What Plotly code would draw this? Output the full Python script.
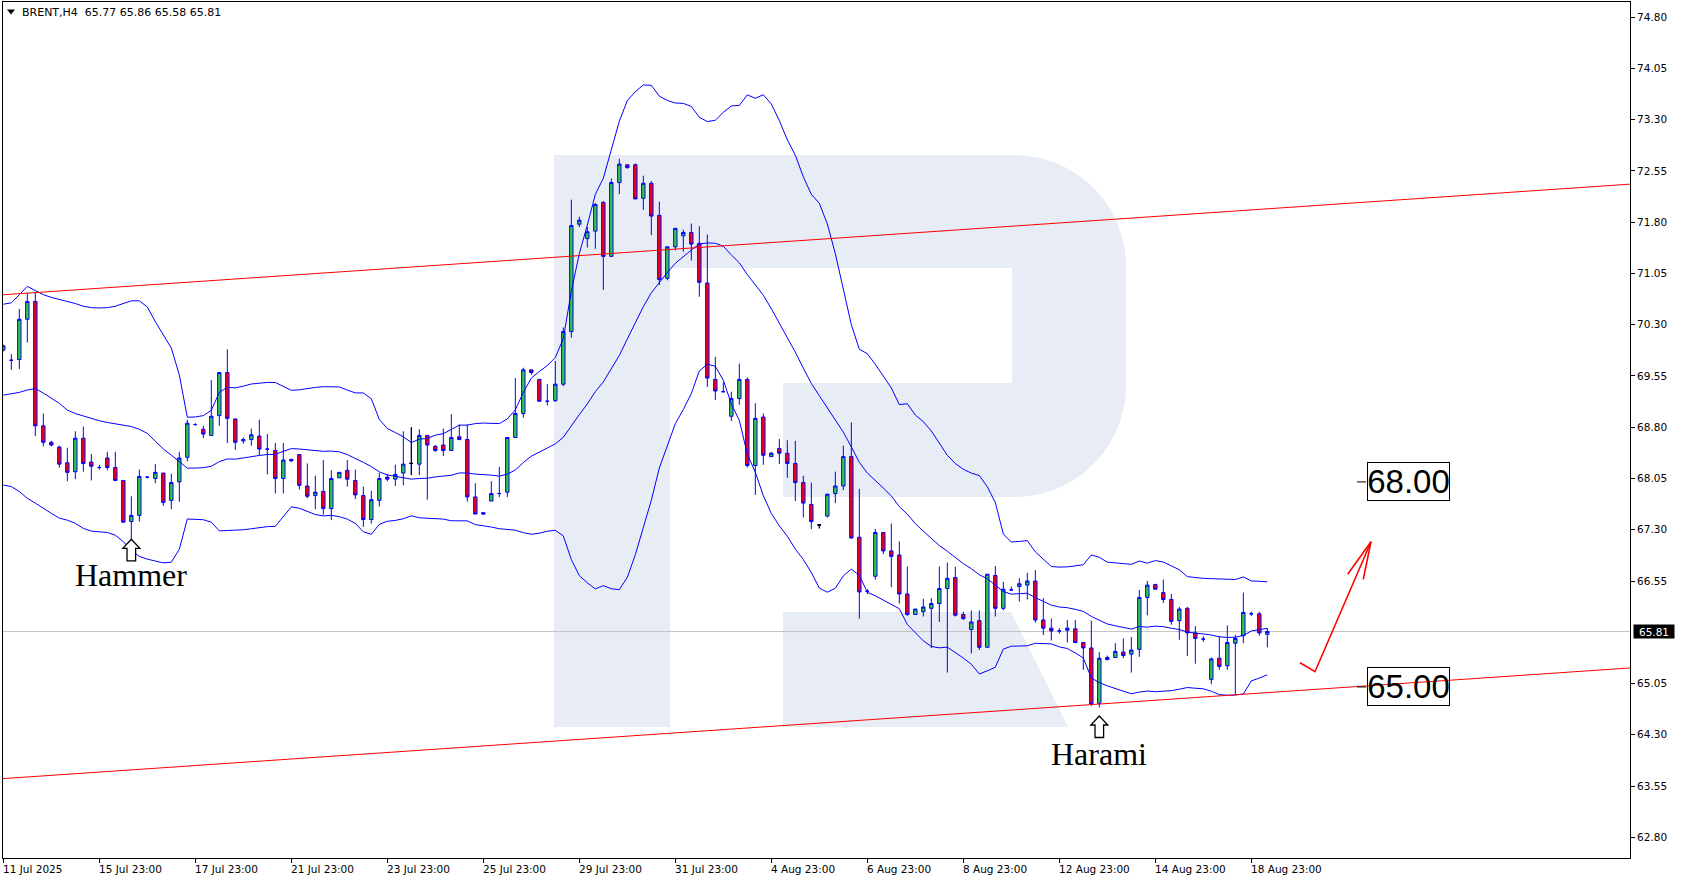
import plotly.graph_objects as go
import pandas as pd

# ---------------- data (BRENT, H4) ----------------
opens = [69.93, 69.78, 69.79, 70.38, 70.64, 68.82, 68.58, 68.51, 68.28, 68.15,
         68.64, 68.29, 68.21, 68.35, 68.21, 68.02, 67.42, 67.51, 68.07, 68.05,
         68.13, 67.73, 68.00, 68.36, 68.84, 68.77, 68.68, 68.97, 69.60, 68.92,
         68.60, 68.62, 68.67, 68.48, 68.46, 68.05, 68.33, 68.40, 67.94, 67.80,
         67.86, 67.61, 68.06, 68.17, 68.02, 67.80, 67.45, 67.73, 68.07, 68.04,
         68.13, 68.27, 68.26, 68.68, 68.52, 68.54, 68.46, 68.66, 68.62, 67.78,
         67.55, 67.72, 67.83, 67.85, 68.65, 69.00, 69.64, 69.50, 69.18, 69.19,
         69.43, 70.20, 71.77, 71.56, 71.67, 72.09, 71.30, 72.38, 72.64, 72.64,
         72.15, 72.37, 71.90, 70.98, 71.44, 71.60, 71.65, 71.49, 70.91, 69.50,
         69.32, 68.96, 69.22, 69.50, 68.24, 68.95, 68.37, 68.49, 68.42, 68.27,
         67.99, 67.67, 67.37, 67.50, 67.83, 67.94, 68.37, 67.19, 66.40, 66.62,
         67.26, 66.99, 66.93, 66.36, 66.06, 66.10, 66.15, 66.22, 66.44, 66.60,
         66.06, 65.84, 65.97, 65.58, 66.63, 66.15, 66.42, 66.47, 66.49, 66.55,
         65.98, 65.86, 65.82, 65.83, 65.85, 65.65, 65.57, 64.76, 65.43, 65.43,
         65.51, 65.48, 65.55, 66.31, 66.50, 66.38, 66.28, 65.97, 66.15, 65.79,
         65.70, 65.11, 65.42, 65.31, 65.64, 65.75, 66.07, 66.07, 65.77]
highs = [70.01, 69.87, 70.53, 70.77, 70.77, 69.00, 68.60, 68.53, 68.50, 68.74,
         68.81, 68.41, 68.25, 68.44, 68.44, 68.02, 67.79, 68.18, 68.08, 68.26,
         68.13, 68.12, 68.44, 68.91, 68.86, 68.82, 69.49, 69.60, 69.94, 68.93,
         68.65, 68.78, 68.91, 68.70, 68.57, 68.57, 68.33, 68.40, 68.27, 68.09,
         68.32, 68.17, 68.14, 68.32, 68.18, 67.93, 67.87, 68.13, 68.11, 68.25,
         68.74, 68.80, 68.77, 68.68, 68.54, 68.78, 68.99, 68.84, 68.84, 67.98,
         67.55, 68.01, 68.22, 68.65, 69.52, 69.67, 69.64, 69.50, 69.43, 69.77,
         70.26, 72.13, 71.88, 71.73, 72.08, 72.11, 72.44, 72.73, 72.64, 72.66,
         72.48, 72.40, 72.10, 71.44, 71.71, 71.69, 71.78, 71.74, 71.62, 69.83,
         69.46, 69.32, 69.73, 69.53, 69.15, 69.00, 68.44, 68.63, 68.61, 68.60,
         68.09, 67.99, 67.37, 67.83, 68.15, 68.53, 68.87, 67.90, 66.43, 67.31,
         67.26, 67.39, 67.13, 66.76, 66.14, 66.29, 66.30, 66.76, 66.82, 66.76,
         66.10, 66.12, 66.12, 66.65, 66.77, 66.54, 66.47, 66.59, 66.67, 66.71,
         66.30, 66.00, 65.86, 65.98, 65.98, 65.65, 65.97, 65.51, 65.46, 65.64,
         65.71, 65.73, 66.42, 66.55, 66.50, 66.57, 66.36, 66.17, 66.17, 65.89,
         65.74, 65.43, 65.74, 65.90, 65.76, 66.38, 66.10, 66.10, 65.86]
lows = [69.91, 69.64, 69.65, 70.04, 68.67, 68.52, 68.52, 68.21, 68.01, 68.04,
        68.15, 68.02, 68.18, 68.17, 68.02, 67.41, 67.15, 67.42, 68.05, 67.98,
        67.65, 67.60, 67.71, 68.30, 68.82, 68.64, 68.68, 68.82, 68.57, 68.47,
        68.56, 68.53, 68.39, 68.11, 67.83, 67.83, 68.29, 67.89, 67.76, 67.60,
        67.52, 67.44, 68.06, 67.93, 67.75, 67.34, 67.39, 67.64, 68.01, 67.94,
        67.95, 68.10, 68.10, 67.74, 68.44, 68.38, 68.46, 68.61, 67.71, 67.53,
        67.52, 67.72, 67.78, 67.78, 68.65, 68.94, 69.57, 69.18, 69.12, 69.17,
        69.40, 70.11, 71.73, 71.43, 71.41, 70.81, 71.30, 72.21, 72.58, 72.14,
        71.98, 71.61, 70.88, 70.95, 71.39, 71.37, 71.24, 70.71, 69.39, 69.20,
        69.31, 68.89, 69.13, 68.21, 67.81, 68.25, 68.37, 68.26, 68.06, 67.72,
        67.48, 67.31, 67.32, 67.48, 67.69, 67.88, 67.17, 66.00, 66.36, 66.57,
        66.94, 66.46, 66.22, 66.04, 66.06, 66.03, 65.57, 65.95, 65.21, 66.03,
        65.98, 65.49, 65.54, 65.58, 66.03, 66.12, 66.41, 66.25, 66.28, 65.94,
        65.76, 65.68, 65.78, 65.65, 65.64, 65.25, 64.72, 64.70, 65.39, 65.43,
        65.42, 65.21, 65.44, 66.05, 66.43, 66.23, 65.91, 65.69, 65.45, 65.34,
        65.66, 65.04, 65.25, 65.25, 64.88, 65.64, 66.04, 65.75, 65.58]
closes = [69.99, 69.78, 70.38, 70.64, 68.82, 68.58, 68.54, 68.26, 68.14, 68.64,
          68.27, 68.23, 68.21, 68.21, 68.02, 67.41, 67.51, 68.08, 68.07, 68.14,
          67.70, 67.99, 68.35, 68.86, 68.84, 68.70, 68.96, 69.60, 68.93, 68.58,
          68.62, 68.69, 68.48, 68.48, 68.05, 68.32, 68.31, 67.95, 67.79, 67.85,
          67.61, 68.05, 68.14, 68.04, 67.81, 67.45, 67.74, 68.05, 68.04, 68.11,
          68.26, 68.27, 68.68, 68.54, 68.46, 68.46, 68.65, 68.62, 67.78, 67.53,
          67.53, 67.83, 67.83, 68.65, 69.00, 69.64, 69.60, 69.18, 69.18, 69.43,
          70.20, 71.75, 71.83, 71.66, 72.06, 71.30, 72.38, 72.65, 72.60, 72.14,
          72.37, 71.89, 70.96, 71.44, 71.71, 71.65, 71.48, 70.92, 69.52, 69.33,
          69.32, 69.22, 69.50, 68.24, 68.93, 68.39, 68.42, 68.42, 68.27, 67.99,
          67.69, 67.42, 67.37, 67.82, 67.94, 68.37, 67.18, 66.39, 66.40, 67.26,
          66.99, 66.91, 66.36, 66.06, 66.14, 66.17, 66.22, 66.44, 66.59, 66.05,
          66.00, 65.95, 65.58, 66.65, 66.15, 66.43, 66.42, 66.51, 66.55, 65.98,
          65.86, 65.82, 65.82, 65.86, 65.65, 65.57, 64.75, 65.42, 65.40, 65.52,
          65.46, 65.54, 66.31, 66.49, 66.43, 66.28, 65.96, 66.14, 65.79, 65.71,
          65.70, 65.41, 65.30, 65.65, 65.71, 66.09, 66.07, 65.79, 65.81]

# doji candles drawn in black on the chart
black_doji_idx = [51, 102]

# Bollinger band values read for the first 19 bars (history before the window)
bb_upper_head = [70.60, 70.62, 70.74, 70.86, 70.80, 70.74, 70.70, 70.67, 70.65, 70.61,
                 70.57, 70.55, 70.545, 70.55, 70.57, 70.61, 70.65, 70.65, 70.56]
bb_mid_head = [69.27, 69.29, 69.31, 69.345, 69.365, 69.30, 69.22, 69.15, 69.05, 69.00,
               68.965, 68.925, 68.895, 68.87, 68.85, 68.84, 68.81, 68.77, 68.71]
bb_lower_head = [67.955, 67.93, 67.86, 67.76, 67.69, 67.61, 67.54, 67.47, 67.44, 67.395,
                 67.32, 67.28, 67.27, 67.26, 67.22, 67.125, 67.00, 66.91, 66.87]
bb_period = 20
bb_dev = 2.0

x_tick_idx = [0, 12, 24, 36, 48, 60, 72, 84, 96, 108, 120, 132, 144, 156]
x_tick_labels = ["11 Jul 2025", "15 Jul 23:00", "17 Jul 23:00", "21 Jul 23:00",
                 "23 Jul 23:00", "25 Jul 23:00", "29 Jul 23:00", "31 Jul 23:00",
                 "4 Aug 23:00", "6 Aug 23:00", "8 Aug 23:00", "12 Aug 23:00",
                 "14 Aug 23:00", "18 Aug 23:00"]
y_tick_vals = [62.80, 63.55, 64.30, 65.05, 66.55, 67.30, 68.05, 68.80, 69.55,
               70.30, 71.05, 71.80, 72.55, 73.30, 74.05, 74.80]

last_price = 65.81
header_text = "BRENT,H4\u00a0\u00a065.77 65.86 65.58 65.81"

# channel lines (bar index, price)
chan_upper = (0, 70.738)
chan_lower = (0, 63.659)
chan_slope = 0.00796
target_up = 68.00
target_down = 65.00

# pattern marks: (bar index, price of arrow tip, label, label offset px)
patterns = [(16, 67.16, "Hammer", -36), (137, 64.575, "Harami", -38)]

# ---------------- derived indicator ----------------
idx = list(range(len(closes)))
cs = pd.Series(closes)
mid = cs.rolling(bb_period).mean()
sd = cs.rolling(bb_period).std(ddof=0)
upper = (mid + bb_dev * sd).tolist()
lower = (mid - bb_dev * sd).tolist()
mid = mid.tolist()
n0 = len(bb_mid_head)
upper[:n0] = bb_upper_head
mid[:n0] = bb_mid_head
lower[:n0] = bb_lower_head

# ---------------- layout geometry (pixels) ----------------
W_FIG, H_FIG = 1681, 882
PL, PR, PT, PB = 3, 1630, 2, 858
PW, PH = PR - PL, PB - PT
Y_RANGE = [62.497, 75.022]
X_RANGE = [-0.04, (PW / 8.0) - 0.04]


def PX(x):
    return (x - PL) / PW


def PY(y):
    return (PB - y) / PH


def pt(x, y):
    return f"{PX(x):.5f},{PY(y):.5f}"


def poly(points):
    s = "M " + pt(*points[0])
    for p in points[1:]:
        s += " L " + pt(*p)
    return s + " Z"


BLUE = "#0000FF"
GREEN = "#32CD32"
RED = "#FF0000"
WM = "#E8ECF4"

fig = go.Figure()

fig.add_trace(go.Candlestick(
    x=idx, open=opens, high=highs, low=lows, close=closes,
    increasing=dict(line=dict(color=BLUE, width=1), fillcolor=GREEN),
    decreasing=dict(line=dict(color=BLUE, width=1), fillcolor=RED),
    whiskerwidth=0, hoverinfo="skip", showlegend=False))

fig.add_trace(go.Candlestick(
    x=black_doji_idx,
    open=[opens[i] for i in black_doji_idx], high=[highs[i] for i in black_doji_idx],
    low=[lows[i] for i in black_doji_idx], close=[closes[i] for i in black_doji_idx],
    increasing=dict(line=dict(color="black", width=1), fillcolor="black"),
    decreasing=dict(line=dict(color="black", width=1), fillcolor="black"),
    whiskerwidth=0, hoverinfo="skip", showlegend=False))

for band in (upper, mid, lower):
    fig.add_trace(go.Scatter(x=idx, y=band, mode="lines",
                             line=dict(color=BLUE, width=1),
                             hoverinfo="skip", showlegend=False))

shapes = []
# watermark "R"
wm = dict(type="path", xref="paper", yref="paper", fillcolor=WM,
          line=dict(width=0), layer="below")
shapes.append(dict(wm, path=poly([(554, 155), (670, 155), (670, 727), (554, 727)])))
shapes.append(dict(wm, path=poly([(669, 155), (1013, 155), (1013, 268), (669, 268)])))
bowl = ("M " + pt(1012, 155) + " L " + pt(1014, 155)
        + " C " + pt(1076, 155) + " " + pt(1126, 205) + " " + pt(1126, 267)
        + " L " + pt(1126, 385)
        + " C " + pt(1126, 447) + " " + pt(1076, 497) + " " + pt(1014, 497)
        + " L " + pt(1012, 497) + " Z")
shapes.append(dict(wm, path=bowl))
shapes.append(dict(wm, path=poly([(783, 383), (1013, 383), (1013, 497), (783, 497)])))
shapes.append(dict(wm, path=poly([(783, 612), (1011, 612), (1068, 727), (783, 727)])))

# last price line
shapes.append(dict(type="line", xref="paper", yref="y", x0=0, x1=1,
                   y0=last_price, y1=last_price,
                   line=dict(color="#C0C0C0", width=1), layer="below"))

# channel lines
for (x0, p0) in (chan_upper, chan_lower):
    xa, xb = -5, 215
    shapes.append(dict(type="line", xref="x", yref="y",
                       x0=xa, x1=xb,
                       y0=p0 + chan_slope * (xa - x0), y1=p0 + chan_slope * (xb - x0),
                       line=dict(color=RED, width=1), layer="above"))

# forecast arrow (hand drawn)
red_pts = [(1300, 662.7), (1315, 671.7), (1371, 541.7)]
red_path = "M " + pt(*red_pts[0]) + "".join(" L " + pt(*p) for p in red_pts[1:])
shapes.append(dict(type="path", xref="paper", yref="paper", path=red_path,
                   line=dict(color=RED, width=1.6), layer="above"))
for hx, hy in [(1347.7, 574.3), (1363.3, 579.3)]:
    shapes.append(dict(type="line", xref="paper", yref="paper",
                       x0=PX(1371), y0=PY(541.7), x1=PX(hx), y1=PY(hy),
                       line=dict(color=RED, width=1.6), layer="above"))

# target labels dashes
for tgt in (target_up, target_down):
    shapes.append(dict(type="line", xref="paper", yref="y",
                       x0=PX(1357), x1=PX(1366), y0=tgt, y1=tgt,
                       line=dict(color="black", width=1)))

# pattern arrows
arrow_path = "M 0,0 L 8.5,-9 L 4.3,-9 L 4.3,-21.5 L -4.3,-21.5 L -4.3,-9 L -8.5,-9 Z"
for bi, tip, _, _ in patterns:
    shapes.append(dict(type="path", xref="x", yref="y",
                       xsizemode="pixel", ysizemode="pixel",
                       xanchor=bi, yanchor=tip, path=arrow_path,
                       fillcolor="white", line=dict(color="black", width=1.3),
                       layer="above"))

# header triangle
shapes.append(dict(type="path", xref="paper", yref="paper",
                   path=poly([(7, 9.5), (15, 9.5), (11, 14.5)]),
                   fillcolor="black", line=dict(width=0)))

annotations = []
annotations.append(dict(xref="paper", yref="paper", x=PX(20), y=PY(12.5),
                        xanchor="left", yanchor="middle", showarrow=False,
                        text=header_text,
                        font=dict(family="DejaVu Sans", size=11, color="black")))
for ti, tl in zip(x_tick_idx, x_tick_labels):
    annotations.append(dict(xref="x", yref="paper", x=ti, y=0, xanchor="left",
                            yanchor="top", yshift=-3, xshift=-2, showarrow=False,
                            text=tl, font=dict(family="DejaVu Sans", size=10.5, color="black")))
annotations.append(dict(xref="paper", yref="y", x=1, y=last_price, xanchor="left",
                        yanchor="middle", xshift=3, showarrow=False,
                        text=f"{last_price:.2f}", bgcolor="black", width=40, height=13,
                        borderpad=0,
                        font=dict(family="DejaVu Sans", size=10.5, color="white")))
for tgt in (target_up, target_down):
    annotations.append(dict(xref="paper", yref="y", x=PX(1408), y=tgt,
                            xanchor="center", yanchor="middle", showarrow=False,
                            text=f"{tgt:.2f}", bordercolor="black", borderwidth=1,
                            borderpad=0, width=81, height=37,
                            font=dict(family="Liberation Sans", size=33, color="black")))
for bi, tip, label, dy in patterns:
    annotations.append(dict(xref="x", yref="y", x=bi, y=tip, xanchor="center",
                            yanchor="middle", yshift=dy, showarrow=False,
                            text=label,
                            font=dict(family="Liberation Serif", size=32, color="black")))

fig.update_layout(
    width=W_FIG, height=H_FIG,
    margin=dict(l=PL, r=W_FIG - PR, t=PT, b=H_FIG - PB, autoexpand=False),
    paper_bgcolor="white", plot_bgcolor="white",
    showlegend=False, boxgap=0.4,
    shapes=shapes, annotations=annotations,
    hovermode=False,
    xaxis=dict(range=X_RANGE, showgrid=False, zeroline=False,
               showline=True, mirror=True, linecolor="black", linewidth=1,
               ticks="outside", ticklen=4, tickcolor="black",
               tickvals=x_tick_idx, showticklabels=False,
               rangeslider=dict(visible=False)),
    yaxis=dict(side="right", range=Y_RANGE, showgrid=False, zeroline=False,
               showline=True, mirror=True, linecolor="black", linewidth=1,
               ticks="outside", ticklen=4, tickcolor="black",
               tickvals=y_tick_vals, ticktext=[f"{v:.2f}" for v in y_tick_vals],
               tickfont=dict(family="DejaVu Sans", size=10.5, color="black")),
)

fig.write_html("out.html", config={"displayModeBar": False},
               post_script="document.body.style.margin='0';document.body.style.overflow='hidden';")
